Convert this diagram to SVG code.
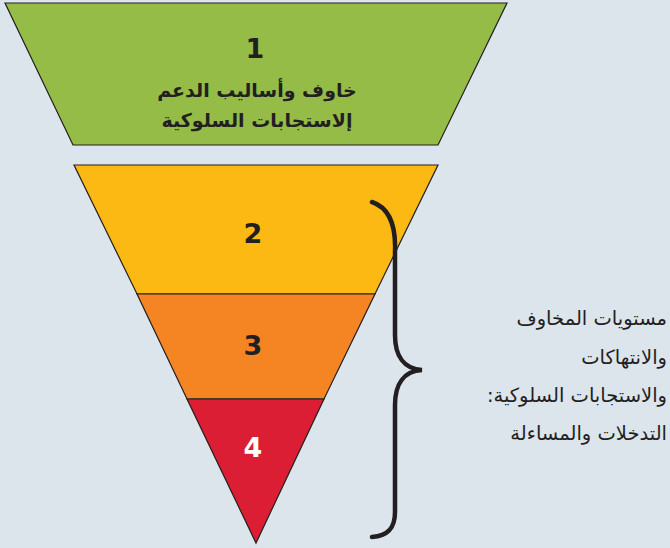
<svg xmlns="http://www.w3.org/2000/svg" width="670" height="548" viewBox="0 0 670 548">
<style>
.seg{stroke:#231f20;stroke-width:1.2;stroke-linejoin:miter}
.num{font-family:"DejaVu Sans","Liberation Sans",sans-serif;font-weight:bold;font-size:27px;text-anchor:middle;fill:#231f20}
.ar{font-family:"DejaVu Sans","Noto Sans",sans-serif;font-weight:bold;font-size:19px;text-anchor:middle;fill:#231f20}
.side{font-family:"DejaVu Sans","Noto Sans",sans-serif;font-size:19.5px;text-anchor:start;fill:#231f20}
</style>
<rect width="670" height="548" fill="#dce4ec"/>
<g id="level1">
<polygon class="seg" points="5,3 507,3 438,145 73,145" fill="#94bc47"/>
<text class="num" x="255" y="58">1</text>
<text class="ar" x="257" y="97" direction="rtl">خاوف وأساليب الدعم</text>
<text class="ar" x="257" y="127" direction="rtl">إلاستجابات السلوكية</text>
</g>
<g id="level2">
<polygon class="seg" points="74,165 438,165 375,294 137,294" fill="#fdb913"/>
<text class="num" x="253" y="243">2</text>
</g>
<g id="level3">
<polygon class="seg" points="137,294 375,294 324,399 187,399" fill="#f58423"/>
<text class="num" x="253" y="355">3</text>
</g>
<g id="level4">
<polygon class="seg" points="187,399 324,399 256,543" fill="#db1e33"/>
<text class="num" x="253" y="457" style="fill:#ffffff">4</text>
</g>
<g id="connectors">
<path d="M372,202 C390,208 396,228 395,252 L395,335 C395,356 404,369 422,370 C404,371 395,384 395,405 L395,512 C395,528 388,536 372,537" fill="none" stroke="#231f20" stroke-width="4.5" stroke-linecap="round"/>
</g>
<g id="label">
<text class="side" x="667" y="325" direction="rtl">مستويات المخاوف</text>
<text class="side" x="667" y="364" direction="rtl">والانتهاكات</text>
<text class="side" x="667" y="402" direction="rtl">والاستجابات السلوكية:</text>
<text class="side" x="667" y="440" direction="rtl">التدخلات والمساءلة</text>
</g>
</svg>
